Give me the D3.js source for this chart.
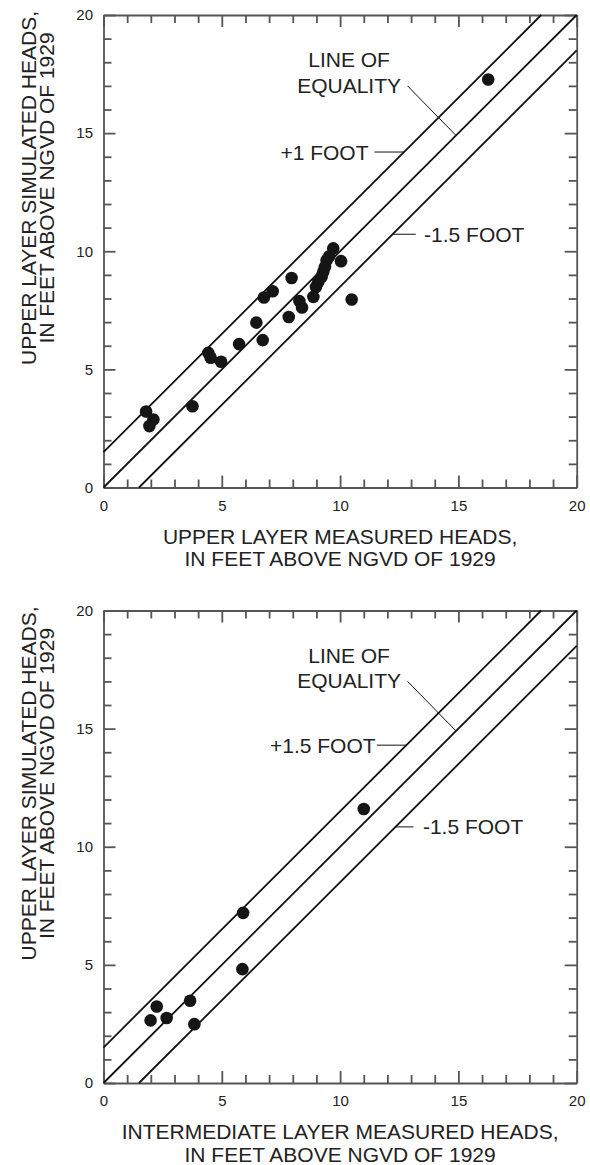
<!DOCTYPE html>
<html>
<head>
<meta charset="utf-8">
<script src="https://cdn.jsdelivr.net/npm/d3@7"></script>
<style>
  body { margin: 0; background: #fff; }
  svg text { font-family: "Liberation Sans", Arial, sans-serif; fill: #222; }
  .axis path, .axis line { stroke: #555; stroke-width: 1.8; }
  .axis text { font-size: 15px; }
</style>
</head>
<body>
<div class="chart"></div>
<script>
// ---- data ----
const upperMeasured  = [1.80, 2.11, 1.94, 3.76, 4.43, 4.53, 4.97, 5.73, 6.46, 6.73, 6.78, 7.15, 7.83, 7.95,
                        8.28, 8.39, 8.87, 8.98, 9.08, 9.22, 9.29, 9.36, 9.43, 9.54, 9.71, 10.04, 10.49, 16.26];
const upperSimulated = [3.22, 2.88, 2.60, 3.44, 5.70, 5.49, 5.32, 6.07, 6.98, 6.24, 8.04, 8.31, 7.22, 8.87,
                        7.89, 7.62, 8.07, 8.49, 8.70, 8.92, 9.13, 9.34, 9.62, 9.79, 10.12, 9.58, 7.96, 17.27];

const interMeasured  = [1.99, 2.25, 2.67, 3.66, 3.84, 5.87, 5.90, 11.0];
const interSimulated = [2.65, 3.24, 2.75, 3.48, 2.49, 4.82, 7.20, 11.6];

const tickValues  = d3.range(0, 21);
const tickLabels  = [0, 5, 10, 15, 20];
const lineOffsets = [1.5, 0, -1.5];

const charts = [
  {
    top: 15,
    xs: upperMeasured, ys: upperSimulated,
    xTitle: ["UPPER LAYER MEASURED HEADS,", "IN FEET ABOVE NGVD OF 1929"],
    yTitle: ["UPPER LAYER SIMULATED HEADS,", "IN FEET ABOVE NGVD OF 1929"],
    plusLabel: "+1 FOOT",
    plusAt: [11.2, 14.2], plusLeader: [11.45, 12.7],
    minusAt: [13.55, 10.72], minusLeader: [12.2, 13.2]
  },
  {
    top: 610.5,
    xs: interMeasured, ys: interSimulated,
    xTitle: ["INTERMEDIATE LAYER MEASURED HEADS,", "IN FEET ABOVE NGVD OF 1929"],
    yTitle: ["UPPER LAYER SIMULATED HEADS,", "IN FEET ABOVE NGVD OF 1929"],
    plusLabel: "+1.5 FOOT",
    plusAt: [11.5, 14.3], plusLeader: [11.55, 12.8],
    minusAt: [13.5, 10.84], minusLeader: [12.35, 13.1]
  }
];

const left = 103.5, width = 473.2, height = 472.5;

const svg = d3.select(".chart").append("svg")
  .attr("width", 590)
  .attr("height", 1165);

charts.forEach(c => {
  const g = svg.append("g").attr("transform", `translate(${left},${c.top})`);

  const x = d3.scaleLinear().domain([0, 20]).range([0, width]);
  const y = d3.scaleLinear().domain([0, 20]).range([height, 0]);

  // axes: minor ticks every foot, longer major ticks every 5, all pointing inward
  const fmt = d => tickLabels.includes(d) ? d : "";
  const tickLen = d => tickLabels.includes(d) ? 12 : 8;

  const bottom = g.append("g").attr("class", "axis")
    .attr("transform", `translate(0,${height})`)
    .call(d3.axisBottom(x).tickValues(tickValues).tickFormat(fmt).tickSizeInner(-8).tickSizeOuter(0).tickPadding(12.5));
  bottom.selectAll(".tick line").attr("y2", d => -tickLen(d));

  const leftAx = g.append("g").attr("class", "axis")
    .call(d3.axisLeft(y).tickValues(tickValues).tickFormat(fmt).tickSizeInner(-8).tickSizeOuter(0).tickPadding(10.5));
  leftAx.selectAll(".tick line").attr("x2", d => tickLen(d));

  const topAx = g.append("g").attr("class", "axis")
    .call(d3.axisTop(x).tickValues(tickValues).tickFormat("").tickSizeInner(-8).tickSizeOuter(0));
  topAx.selectAll(".tick line").attr("y2", d => tickLen(d));

  const rightAx = g.append("g").attr("class", "axis")
    .attr("transform", `translate(${width},0)`)
    .call(d3.axisRight(y).tickValues(tickValues).tickFormat("").tickSizeInner(-8).tickSizeOuter(0));
  rightAx.selectAll(".tick line").attr("x2", d => -tickLen(d));

  g.selectAll(".axis text").style("fill", "#222");

  // equality line and offsets, clipped to the 0-20 square
  g.selectAll("line.ref")
    .data(lineOffsets)
    .join("line")
    .attr("class", "ref")
    .attr("x1", o => x(Math.max(0, -o)))
    .attr("y1", o => y(Math.max(0, -o) + o))
    .attr("x2", o => x(Math.min(20, 20 - o)))
    .attr("y2", o => y(Math.min(20, 20 - o) + o))
    .attr("stroke", "#111")
    .attr("stroke-width", 1.8);

  // points
  g.selectAll("circle")
    .data(c.xs.map((v, i) => [v, c.ys[i]]))
    .join("circle")
    .attr("cx", d => x(d[0]))
    .attr("cy", d => y(d[1]))
    .attr("r", 6.3)
    .attr("fill", "#151515");

  // annotations
  const ann = g.append("g").style("font-size", "21px");
  ann.append("text").attr("x", x(10.38)).attr("y", y(18.1)).attr("dy", "0.36em")
    .attr("text-anchor", "middle").text("LINE OF");
  ann.append("text").attr("x", x(10.38)).attr("y", y(17.02)).attr("dy", "0.36em")
    .attr("text-anchor", "middle").text("EQUALITY");
  ann.append("line")
    .attr("x1", x(12.85)).attr("y1", y(17.0))
    .attr("x2", x(14.9)).attr("y2", y(14.9))
    .attr("stroke", "#111").attr("stroke-width", 1);

  ann.append("text").attr("x", x(c.plusAt[0])).attr("y", y(c.plusAt[1])).attr("dy", "0.36em")
    .attr("text-anchor", "end").text(c.plusLabel);
  ann.append("line")
    .attr("x1", x(c.plusLeader[0])).attr("x2", x(c.plusLeader[1]))
    .attr("y1", y(c.plusAt[1])).attr("y2", y(c.plusAt[1]))
    .attr("stroke", "#111").attr("stroke-width", 1);

  ann.append("text").attr("x", x(c.minusAt[0])).attr("y", y(c.minusAt[1])).attr("dy", "0.36em")
    .text("-1.5 FOOT");
  ann.append("line")
    .attr("x1", x(c.minusLeader[0])).attr("x2", x(c.minusLeader[1]))
    .attr("y1", y(c.minusAt[1])).attr("y2", y(c.minusAt[1]))
    .attr("stroke", "#111").attr("stroke-width", 1);

  // axis titles
  const xt = g.append("text").attr("text-anchor", "middle").style("font-size", "21px");
  c.xTitle.forEach((t, i) => {
    xt.append("tspan").attr("x", width / 2).attr("y", height + 56 + i * 22.5).text(t);
  });

  const yt = g.append("text").attr("text-anchor", "middle").style("font-size", "21px")
    .attr("transform", `translate(${36 - left},${173}) rotate(-90)`);
  c.yTitle.forEach((t, i) => {
    yt.append("tspan").attr("x", 0).attr("y", i * 18).text(t);
  });
});
</script>
</body>
</html>
